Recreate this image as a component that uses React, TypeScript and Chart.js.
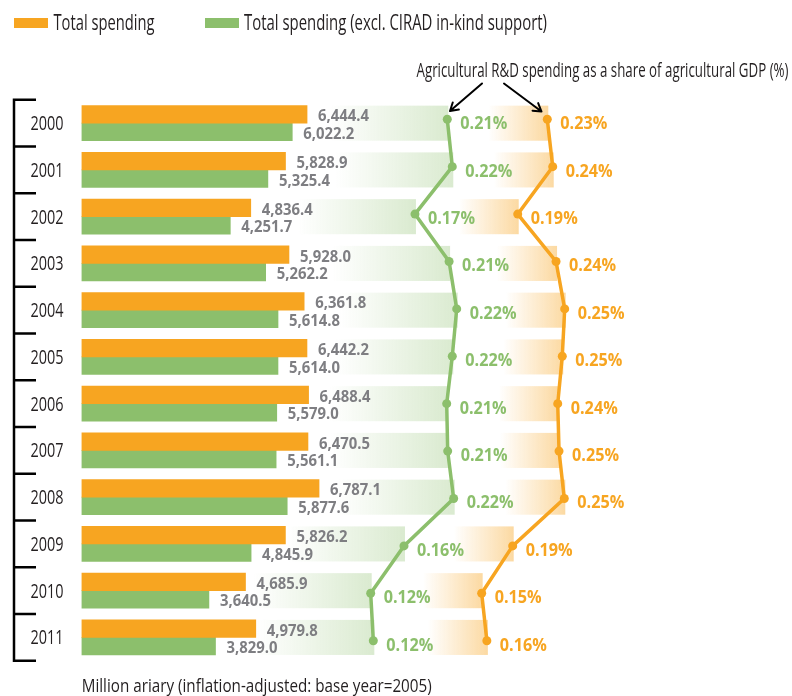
import React, { useEffect, useRef } from "react";
import { Chart, registerables } from "chart.js";

Chart.register(...registerables);

const years = ["2000", "2001", "2002", "2003", "2004", "2005", "2006", "2007", "2008", "2009", "2010", "2011"];
const totalSpending = [6444.4, 5828.9, 4836.4, 5928.0, 6361.8, 6442.2, 6488.4, 6470.5, 6787.1, 5826.2, 4685.9, 4979.8];
const exclCirad = [6022.2, 5325.4, 4251.7, 5262.2, 5614.8, 5614.0, 5579.0, 5561.1, 5877.6, 4845.9, 3640.5, 3829.0];
const shareTotal = [0.2306, 0.2373, 0.1941, 0.2414, 0.2521, 0.2491, 0.2435, 0.2451, 0.2516, 0.1879, 0.1496, 0.156];
const shareExcl = [0.2118, 0.2179, 0.1724, 0.214, 0.2233, 0.2179, 0.2111, 0.2123, 0.2196, 0.159, 0.1184, 0.1216];

const legendLabels = ["Total spending", "Total spending (excl. CIRAD in-kind support)"];
const shareTitle = "Agricultural R&D spending as a share of agricultural GDP (%)";
const unitNote = "Million ariary (inflation-adjusted: base year=2005)";

const ORANGE = "#F7A521";
const GREEN = "#8CBF6C";
const GRAY = "#7E7E82";
const INK = "#231F20";
const FAMILY = '"Open Sans", "Noto Sans", sans-serif';
const BAR_SHIFT = 0.1875; // half of one bar, in category units

function drawScaled(ctx: CanvasRenderingContext2D, text: string, x: number, y: number, font: string, color: string, align: string, sx: number) {
  ctx.save();
  ctx.font = font;
  ctx.fillStyle = color;
  ctx.textBaseline = "alphabetic";
  ctx.textAlign = "left";
  const w = ctx.measureText(text).width * sx;
  const left = align === "center" ? x - w / 2 : align === "right" ? x - w : x;
  ctx.translate(left, y);
  ctx.scale(sx, 1);
  ctx.fillText(text, 0, 0);
  ctx.restore();
}

function fitScale(ctx: CanvasRenderingContext2D, text: string, font: string, target: number) {
  ctx.save();
  ctx.font = font;
  const w = ctx.measureText(text).width;
  ctx.restore();
  return w > 0 ? target / w : 1;
}

function drawFit(ctx: CanvasRenderingContext2D, text: string, x: number, y: number, font: string, color: string, target: number) {
  const sx = fitScale(ctx, text, font, target);
  drawScaled(ctx, text, x, y, font, color, "left", sx);
}

function arrow(ctx: CanvasRenderingContext2D, x0: number, y0: number, x1: number, y1: number) {
  ctx.save();
  ctx.strokeStyle = "#000";
  ctx.lineWidth = 2;
  ctx.lineCap = "round";
  ctx.beginPath();
  ctx.moveTo(x0, y0);
  ctx.lineTo(x1, y1);
  const a = Math.atan2(y1 - y0, x1 - x0);
  const L = 9;
  ctx.moveTo(x1, y1);
  ctx.lineTo(x1 - L * Math.cos(a - 0.55), y1 - L * Math.sin(a - 0.55));
  ctx.moveTo(x1, y1);
  ctx.lineTo(x1 - L * Math.cos(a + 0.55), y1 - L * Math.sin(a + 0.55));
  ctx.stroke();
  ctx.restore();
}

const fmt = (v: number) => v.toLocaleString("en-US", { minimumFractionDigits: 1, maximumFractionDigits: 1 });

const overlay = {
  id: "overlay",
  beforeDatasetsDraw(chart: any) {
    const ctx = chart.ctx as CanvasRenderingContext2D;
    const m0 = chart.getDatasetMeta(0).data;
    const m1 = chart.getDatasetMeta(1).data;
    const mg = chart.getDatasetMeta(2).data;
    const mo = chart.getDatasetMeta(3).data;
    ctx.save();
    for (let i = 0; i < years.length; i++) {
      const top = m0[i].y - m0[i].height / 2;
      const bottom = m1[i].y + m1[i].height / 2;
      const gx = mg[i].x + 1;
      const gl = 118;
      let g = ctx.createLinearGradient(gx - gl, 0, gx, 0);
      g.addColorStop(0, "rgba(140,191,108,0)");
      g.addColorStop(1, "rgba(140,191,108,0.32)");
      ctx.fillStyle = g;
      ctx.fillRect(gx - gl, top, gl, bottom - top);
      const ox = mo[i].x + 1;
      const ol = 60;
      g = ctx.createLinearGradient(ox - ol, 0, ox, 0);
      g.addColorStop(0, "rgba(247,165,33,0)");
      g.addColorStop(1, "rgba(247,165,33,0.42)");
      ctx.fillStyle = g;
      ctx.fillRect(ox - ol, top, ol, bottom - top);
    }
    ctx.restore();
  },
  afterDatasetsDraw(chart: any) {
    const ctx = chart.ctx as CanvasRenderingContext2D;
    const valFont = `bold 16.5px ${FAMILY}`;
    const valSx = fitScale(ctx, "6,444.4", valFont, 51);
    const pctFont = `bold 18.6px ${FAMILY}`;
    const pctSx = fitScale(ctx, "0.21%", pctFont, 47);
    [0, 1].forEach((d) => {
      const meta = chart.getDatasetMeta(d).data;
      const vals = d === 0 ? totalSpending : exclCirad;
      meta.forEach((bar: any, i: number) => {
        drawScaled(ctx, fmt(vals[i]), bar.x + 11, bar.y + 7, valFont, GRAY, "left", valSx);
      });
    });
    [2, 3].forEach((d) => {
      const meta = chart.getDatasetMeta(d).data;
      const vals = d === 2 ? shareExcl : shareTotal;
      const col = d === 2 ? GREEN : ORANGE;
      meta.forEach((pt: any, i: number) => {
        drawScaled(ctx, vals[i].toFixed(2) + "%", pt.x + 13, pt.y + 10, pctFont, col, "left", pctSx);
      });
    });
  },
  afterDraw(chart: any) {
    const ctx = chart.ctx as CanvasRenderingContext2D;
    const area = chart.chartArea;
    ctx.save();
    ctx.fillStyle = ORANGE;
    ctx.fillRect(14, 18, 34, 10);
    ctx.fillStyle = GREEN;
    ctx.fillRect(205, 18, 34, 10);
    ctx.restore();
    const legFont = `21px ${FAMILY}`;
    drawFit(ctx, legendLabels[0], 53.5, 30, legFont, INK, 101);
    drawFit(ctx, legendLabels[1], 244, 30, legFont, INK, 303);
    drawFit(ctx, shareTitle, 416.5, 76.7, `19.6px ${FAMILY}`, INK, 372);
    arrow(ctx, 482, 83.5, 450, 111);
    arrow(ctx, 504, 83.5, 541.5, 111.5);
    const pitch = (area.bottom - area.top) / years.length;
    ctx.save();
    ctx.strokeStyle = "#000";
    ctx.lineWidth = 2.5;
    ctx.beginPath();
    ctx.moveTo(14, area.top - 1.25);
    ctx.lineTo(14, area.bottom + 1.25);
    for (let k = 0; k <= years.length; k++) {
      const y = area.top + k * pitch;
      ctx.moveTo(12.75, y);
      ctx.lineTo(36, y);
    }
    ctx.stroke();
    ctx.restore();
    const yFont = `19.6px ${FAMILY}`;
    const ySx = fitScale(ctx, "2000", yFont, 33);
    const yScale = chart.scales.yb;
    years.forEach((yr, i) => {
      const cy = yScale.getPixelForValue(i);
      drawScaled(ctx, yr, 47, cy + 7, yFont, INK, "center", ySx);
    });
    drawFit(ctx, unitNote, 81.7, 691.7, `18.7px ${FAMILY}`, INK, 350);
  },
};

export default function App() {
  const canvasRef = useRef<HTMLCanvasElement | null>(null);

  useEffect(() => {
    if (!canvasRef.current) return;
    const chart = new Chart(canvasRef.current, {
      type: "bar",
      data: {
        labels: years,
        datasets: [
          {
            type: "bar",
            label: legendLabels[0],
            data: totalSpending.map((v, i) => ({ x: v, y: i - BAR_SHIFT })),
            backgroundColor: ORANGE,
            borderWidth: 0,
            categoryPercentage: 1,
            barPercentage: 1,
            grouped: false,
            xAxisID: "x",
            yAxisID: "yb",
            order: 2,
          },
          {
            type: "bar",
            label: legendLabels[1],
            data: exclCirad.map((v, i) => ({ x: v, y: i + BAR_SHIFT })),
            backgroundColor: GREEN,
            borderWidth: 0,
            categoryPercentage: 1,
            barPercentage: 1,
            grouped: false,
            xAxisID: "x",
            yAxisID: "yb",
            order: 2,
          },
          {
            type: "line",
            label: "Share excl.",
            data: shareExcl.map((v, i) => ({ x: v, y: i })),
            borderColor: GREEN,
            backgroundColor: GREEN,
            borderWidth: 3.5,
            pointRadius: 4.5,
            pointBorderWidth: 0,
            fill: false,
            tension: 0,
            xAxisID: "xg",
            yAxisID: "yl",
            order: 1,
          },
          {
            type: "line",
            label: "Share total",
            data: shareTotal.map((v, i) => ({ x: v, y: i })),
            borderColor: ORANGE,
            backgroundColor: ORANGE,
            borderWidth: 3.5,
            pointRadius: 4.5,
            pointBorderWidth: 0,
            fill: false,
            tension: 0,
            xAxisID: "xo",
            yAxisID: "yl",
            order: 1,
          },
        ] as any,
      },
      options: {
        responsive: false,
        animation: false,
        devicePixelRatio: 1,
        indexAxis: "y",
        layout: { padding: { left: 81.5, top: 99.8, right: 10.5, bottom: 35.2 } },
        plugins: { legend: { display: false }, tooltip: { enabled: false } },
        scales: {
          x: { type: "linear", min: 0, max: 20000, display: false, offset: false, stacked: false },
          yb: { type: "linear", min: -0.5, max: 11.5, reverse: true, display: false, offset: false, ticks: { stepSize: 1 } },
          xg: { type: "linear", min: -0.23427, max: 0.61939, display: false, offset: false },
          xo: { type: "linear", min: -0.34444, max: 0.51975, display: false, offset: false },
          yl: { type: "linear", min: -0.411, max: 11.424, reverse: true, display: false, offset: false },
        },
      } as any,
      plugins: [overlay],
    });
    return () => chart.destroy();
  }, []);

  return (
    <div style={{ position: "absolute", left: 0, top: 0, width: 792, height: 696, background: "#fff" }}>
      <canvas ref={canvasRef} width={792} height={696} style={{ display: "block", width: 792, height: 696 }} />
    </div>
  );
}
